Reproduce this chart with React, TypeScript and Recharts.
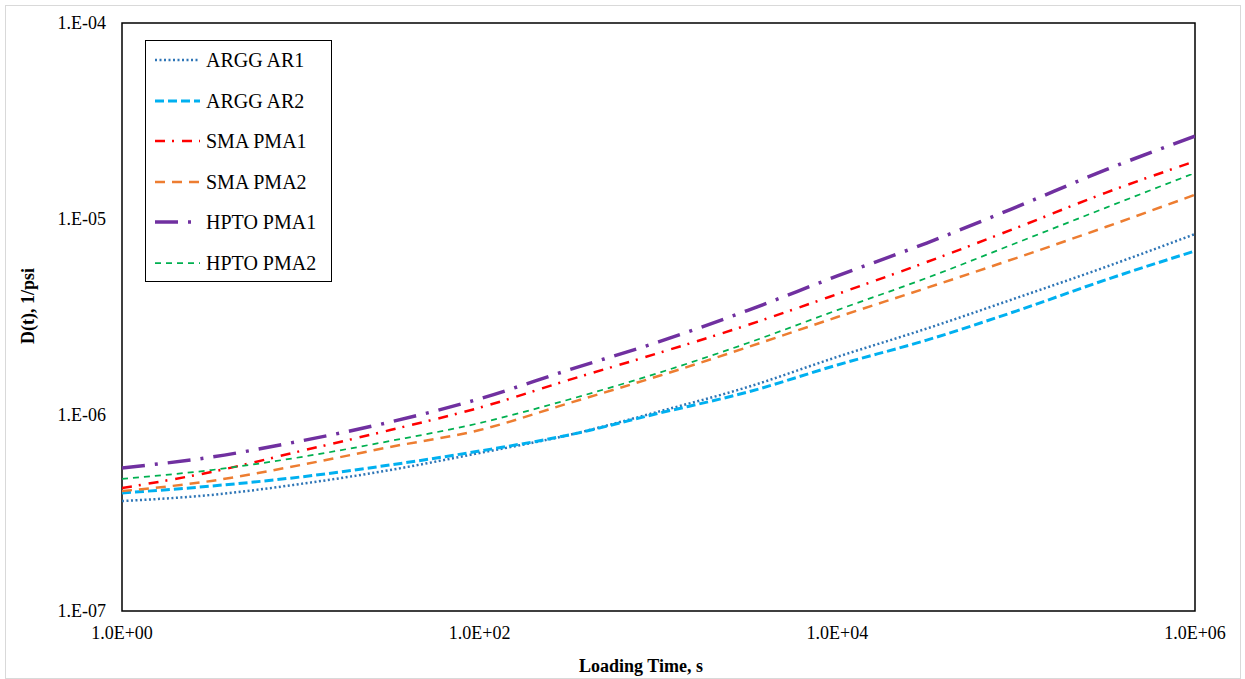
import { LineChart, Line, XAxis, YAxis, ReferenceArea, Legend } from "recharts";

// loading time, s
const times = [1, 3.16, 10, 31.6, 100, 316, 1000, 3160, 10000, 31600, 100000, 316000, 1000000];

// creep compliance D(t), 1/psi
const arggAr1 = [3.64e-7, 3.91e-7, 4.45e-7, 5.24e-7, 6.4e-7, 7.91e-7, 1.04e-6, 1.39e-6, 1.98e-6, 2.76e-6, 3.95e-6, 5.69e-6, 8.38e-6];
const arggAr2 = [4.0e-7, 4.34e-7, 4.83e-7, 5.56e-7, 6.55e-7, 7.91e-7, 1.02e-6, 1.31e-6, 1.8e-6, 2.41e-6, 3.39e-6, 4.89e-6, 6.87e-6];
const smaPma1 = [4.24e-7, 5.12e-7, 6.55e-7, 8.38e-7, 1.09e-6, 1.51e-6, 2.07e-6, 2.88e-6, 4.14e-6, 6.03e-6, 9.0e-6, 1.36e-5, 1.97e-5];
const smaPma2 = [4.09e-7, 4.61e-7, 5.56e-7, 6.87e-7, 8.38e-7, 1.15e-6, 1.58e-6, 2.22e-6, 3.16e-6, 4.45e-6, 6.32e-6, 9.1e-6, 1.33e-5];
const hptoPma1 = [5.37e-7, 6.1e-7, 7.37e-7, 9.21e-7, 1.21e-6, 1.7e-6, 2.36e-6, 3.42e-6, 5.12e-6, 7.54e-6, 1.15e-5, 1.78e-5, 2.65e-5];
const hptoPma2 = [4.72e-7, 5.24e-7, 6.1e-7, 7.37e-7, 9.1e-7, 1.2e-6, 1.64e-6, 2.33e-6, 3.43e-6, 5.0e-6, 7.54e-6, 1.14e-5, 1.72e-5];

const xTicks = [1, 100, 10000, 1000000];
const yTicks = [1e-7, 1e-6, 1e-5, 1e-4];

const series = [
  { key: "arggAr1", name: "ARGG AR1", values: arggAr1, color: "#2E75B6", width: 2.5, dash: "2 2.5" },
  { key: "arggAr2", name: "ARGG AR2", values: arggAr2, color: "#00B0F0", width: 3, dash: "9 4" },
  { key: "smaPma1", name: "SMA PMA1", values: smaPma1, color: "#FF0000", width: 2.5, dash: "10 7 2 8" },
  { key: "smaPma2", name: "SMA PMA2", values: smaPma2, color: "#ED7D31", width: 2.5, dash: "10 7" },
  { key: "hptoPma1", name: "HPTO PMA1", values: hptoPma1, color: "#7030A0", width: 3.5, dash: "23 10 3 10" },
  { key: "hptoPma2", name: "HPTO PMA2", values: hptoPma2, color: "#00B050", width: 1.75, dash: "6 5" },
];

const data = times.map((t, i) => {
  const row: Record<string, number> = { t };
  series.forEach((s) => (row[s.key] = s.values[i]));
  return row;
});

const serif = '"Liberation Serif", "Times New Roman", serif';

const fmtX = (v: number) => `1.0E+${String(Math.round(Math.log10(v))).padStart(2, "0")}`;
const fmtY = (v: number) => `1.E-${String(-Math.round(Math.log10(v))).padStart(2, "0")}`;

const XTick = ({ x, y, payload }: any) => (
  <text x={x} y={y + 28} textAnchor="middle" fontFamily={serif} fontSize={18} fill="#000">
    {fmtX(payload.value)}
  </text>
);

const YTick = ({ x, y, payload }: any) => (
  <text x={x - 16} y={y + 6} textAnchor="end" fontFamily={serif} fontSize={18} fill="#000">
    {fmtY(payload.value)}
  </text>
);

const LegendBox = () => (
  <div style={{ position: "relative", width: 187, height: 242, border: "1px solid #000", boxSizing: "border-box", background: "#fff" }}>
    {series.map((s, i) => (
      <div key={s.key} style={{ position: "absolute", left: 9, top: 8 + i * 40.6, height: 22, display: "flex", alignItems: "center" }}>
        <svg width={45} height={10}>
          <line x1={0} x2={45} y1={5} y2={5} stroke={s.color} strokeWidth={s.width} strokeDasharray={s.dash} />
        </svg>
        <span style={{ marginLeft: 6, fontFamily: serif, fontSize: 20, color: "#000", whiteSpace: "nowrap", lineHeight: "22px" }}>
          {s.name}
        </span>
      </div>
    ))}
  </div>
);

export default function App() {
  return (
    <div style={{ position: "absolute", left: 0, top: 0, width: 1245, height: 679, background: "#fff" }}>
      <div style={{ position: "absolute", left: 5, top: 5, width: 1234, height: 672, border: "1px solid #d9d9d9" }} />
      <div style={{ position: "absolute", left: 0, top: 0 }}>
        <LineChart width={1245} height={679} data={data} margin={{ top: 23, right: 50, bottom: 28, left: 62 }}>
          <XAxis
            dataKey="t"
            type="number"
            scale="log"
            domain={[1, 1000000]}
            ticks={xTicks}
            allowDataOverflow
            axisLine={false}
            tickLine={false}
            tickSize={0}
            tickMargin={0}
            height={40}
            tick={<XTick />}
            interval={0}
          />
          <YAxis
            type="number"
            scale="log"
            domain={[1e-7, 1e-4]}
            ticks={yTicks}
            allowDataOverflow
            axisLine={false}
            tickLine={false}
            tickSize={0}
            tickMargin={0}
            width={60}
            tick={<YTick />}
            interval={0}
          />
          {series.map((s) => (
            <Line
              key={s.key}
              dataKey={s.key}
              name={s.name}
              type="monotone"
              stroke={s.color}
              strokeWidth={s.width}
              strokeDasharray={s.dash}
              dot={false}
              activeDot={false}
              isAnimationActive={false}
            />
          ))}
          <ReferenceArea x1={1} x2={1000000} y1={1e-7} y2={1e-4} fill="none" stroke="#000" strokeWidth={1.5} />
          <Legend
            layout="vertical"
            align="center"
            verticalAlign="middle"
            content={() => <LegendBox />}
            wrapperStyle={{ left: 145, top: 40, width: 187, height: 242 }}
          />
          <text x={641} y={672} textAnchor="middle" fontFamily={serif} fontSize={18} fontWeight="bold" fill="#000">
            Loading Time, s
          </text>
          <text x={28} y={306} transform="rotate(-90 28 306)" textAnchor="middle" dominantBaseline="central" fontFamily={serif} fontSize={18} fontWeight="bold" fill="#000">
            D(t), 1/psi
          </text>
        </LineChart>
      </div>
    </div>
  );
}
